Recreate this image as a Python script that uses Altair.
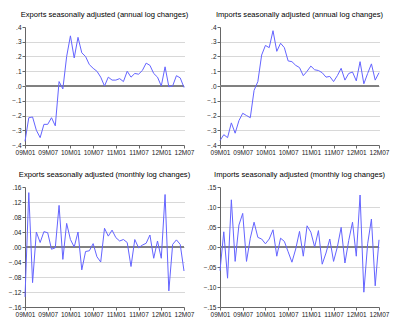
import altair as alt
import pandas as pd

periods = [f"{y:02d}M{m:02d}" for y in range(9, 13) for m in range(1, 13)][:43]
tick_idx = [0, 6, 12, 18, 24, 30, 36, 42]

exp_annual = [-0.375, -0.215, -0.21, -0.30, -0.35, -0.26, -0.26, -0.215, -0.27, 0.03,
              -0.02, 0.20, 0.34, 0.19, 0.33, 0.225, 0.20, 0.145, 0.12, 0.10,
              0.06, 0.00, 0.06, 0.04, 0.04, 0.05, 0.03, 0.10, 0.06, 0.085,
              0.08, 0.105, 0.155, 0.14, 0.085, 0.06, 0.00, 0.13, -0.005, 0.00,
              0.07, 0.055, -0.01]
imp_annual = [-0.37, -0.33, -0.35, -0.25, -0.32, -0.235, -0.185, -0.20, -0.215, -0.03,
              0.03, 0.21, 0.275, 0.26, 0.375, 0.235, 0.29, 0.26, 0.17, 0.165,
              0.14, 0.125, 0.07, 0.10, 0.135, 0.11, 0.105, 0.09, 0.06, 0.065,
              0.03, 0.07, 0.12, 0.04, 0.085, 0.095, 0.035, 0.165, 0.015, 0.085,
              0.15, 0.04, 0.09]
exp_monthly = [-0.133, 0.145, -0.095, 0.04, 0.012, 0.041, 0.038, -0.006, -0.002, 0.111,
               -0.033, 0.063, 0.02, 0.0, 0.04, -0.061, -0.012, -0.01, 0.009, -0.026,
               -0.04, 0.05, 0.029, 0.045, 0.025, 0.016, 0.02, 0.012, -0.052, 0.02,
               -0.002, 0.005, 0.01, 0.032, -0.03, 0.016, -0.03, 0.14, -0.117, 0.007,
               0.019, 0.007, -0.064]
imp_monthly = [-0.059, 0.038, -0.078, 0.118, -0.036, 0.055, 0.084, -0.036, 0.022, 0.062,
               0.024, 0.02, 0.008, 0.02, 0.043, -0.023, 0.022, 0.014, -0.012, -0.038,
               -0.005, 0.039, -0.023, 0.053, 0.037, 0.0, 0.041, -0.043, -0.015, 0.02,
               -0.036, 0.0, 0.049, -0.04, 0.016, 0.062, -0.023, 0.13, -0.113, 0.008,
               0.07, -0.097, 0.018]

annual_ticks = [-0.4, -0.3, -0.2, -0.1, 0.0, 0.1, 0.2, 0.3, 0.4]
exp_m_ticks = [-0.16, -0.12, -0.08, -0.04, 0.0, 0.04, 0.08, 0.12, 0.16]
imp_m_ticks = [-0.15, -0.10, -0.05, 0.0, 0.05, 0.10, 0.15]

FONT = "Liberation Sans"
LINE = "#6464ff"
AXIS = "#666666"
label_arr = "[" + ",".join(f"'{p}'" for p in periods) + "]"


def panel(values, title, ticks, fmt, height):
    df = pd.DataFrame({"t": list(range(len(values))), "v": values, "period": periods})
    lim = max(ticks) * 0.99
    x_axis = alt.Axis(values=tick_idx, labelExpr=f"{label_arr}[datum.value]",
                      title=None, grid=False, domainColor=AXIS, tickColor=AXIS,
                      tickSize=3, labelPadding=1, labelFont=FONT, labelFontSize=6.5,
                      labelColor="#222", labelOverlap=False, labelFlush=False)
    y_axis = alt.Axis(values=ticks, tickCount=len(ticks),
                      labelExpr=f"replace(format(datum.value, '{fmt}'), '0.', '.')",
                      title=None, grid=True, gridColor="#b0b0b0", gridDash=[1, 1],
                      gridOpacity={"condition": {"test": f"abs(datum.value) > {lim}", "value": 0}, "value": 1},
                      domainColor=AXIS, tickColor=AXIS, tickSize=3, labelPadding=1,
                      labelFont=FONT, labelFontSize=6.5, labelColor="#222",
                      labelOverlap=False, labelFlush=False)
    y_scale = alt.Scale(domain=[min(ticks), max(ticks)], nice=False, zero=False)
    x = alt.X("t:Q", scale=alt.Scale(domain=[0, 42], nice=False, zero=False), axis=x_axis)
    y = alt.Y("v:Q", scale=y_scale, axis=y_axis)
    line = alt.Chart(df).mark_line(color=LINE, strokeWidth=1).encode(x=x, y=y)
    zero = alt.Chart(df).mark_rule(color="#808080", strokeWidth=1).encode(
        y=alt.Y(datum=0, type="quantitative", scale=y_scale, axis=y_axis),
        x=alt.value(0), x2=alt.value(159))
    return alt.layer(zero, line).properties(
        width=159, height=height,
        title=alt.Title(title, font=FONT, fontSize=7.6, fontWeight="normal", color="#000", offset=5))


p1 = panel(exp_annual, "Exports seasonally adjusted (annual log changes)", annual_ticks, ".1f", 118)
p2 = panel(imp_annual, "Imports seasonally adjusted (annual log changes)", annual_ticks, ".1f", 118)
p3 = panel(exp_monthly, "Exports seasonally adjusted (monthly log changes)", exp_m_ticks, ".2f", 120)
p4 = panel(imp_monthly, "Imports seasonally adjusted (monthly log changes)", imp_m_ticks, ".2f", 120)

chart = alt.concat(p1, p2, p3, p4, columns=2, spacing={"row": 42, "column": 36},
                   bounds="flush").properties(
    padding={"left": 8, "top": 11, "right": 5, "bottom": 5},
    background="white",
).configure_view(stroke=None)

chart.save("out.html", embed_options={"renderer": "svg", "actions": False})
